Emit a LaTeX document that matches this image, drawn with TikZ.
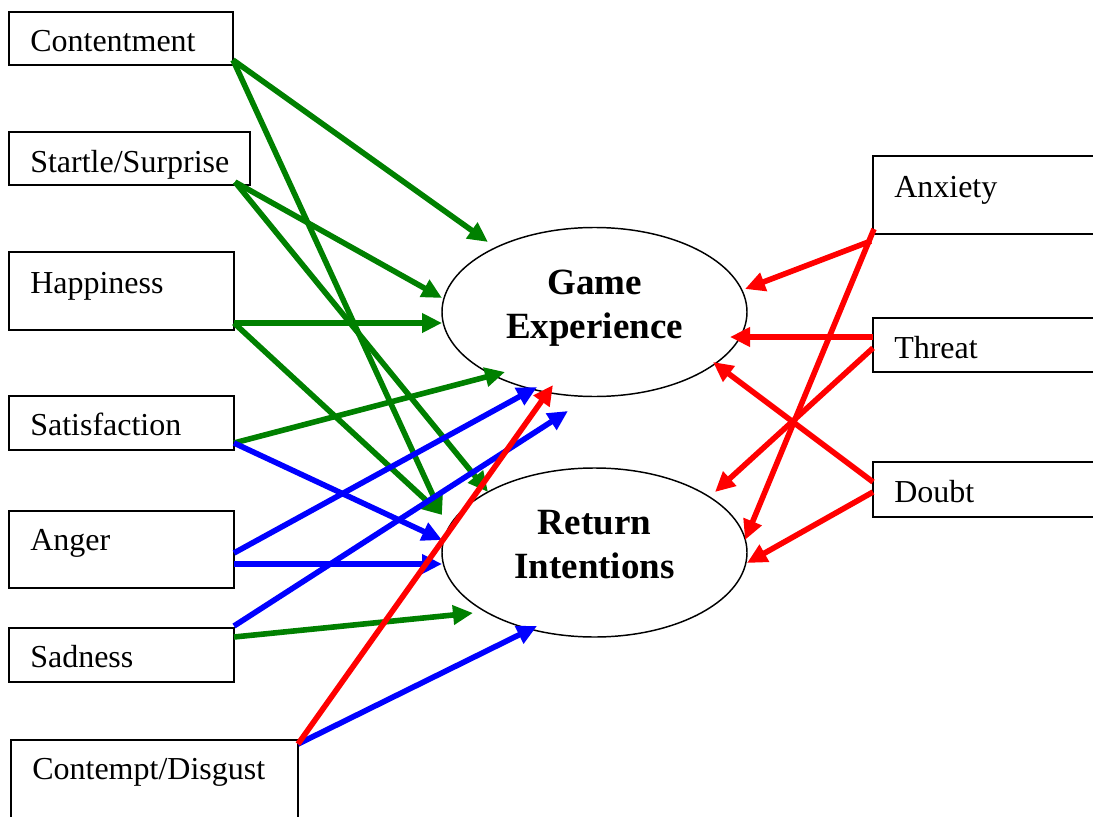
\documentclass[tikz,border=0pt]{standalone}
\usepackage{fontspec}
\setmainfont{Liberation Serif}
\usetikzlibrary{arrows.meta,shapes.geometric,calc}

\definecolor{posgreen}{RGB}{0,128,0}
\definecolor{negblue}{RGB}{0,0,255}
\definecolor{negred}{RGB}{255,0,0}

\tikzset{
  emobox/.style={draw=black, line width=1.5pt, rectangle, inner sep=0pt, outer sep=0pt, anchor=north west},
  emolabel/.style={inner sep=0pt, anchor=base west, font=\fontsize{24}{28}\selectfont},
  outcome/.style={draw=black, line width=1.1pt, ellipse, inner sep=0pt, outer sep=0pt,
                  minimum width=228.75pt, minimum height=126.75pt},
  outlabel/.style={inner sep=0pt, anchor=base, font=\fontsize{27.75}{33}\selectfont\bfseries},
  link/.style={line width=4.2pt, -{Triangle[length=15pt,width=14pt]}},
  glink/.style={link, draw=posgreen, fill=posgreen},
  blink/.style={link, draw=negblue, fill=negblue},
  rlink/.style={link, draw=negred, fill=negred}
}

\begin{document}
\begin{tikzpicture}[x=0.75pt, y=-0.75pt]
\useasboundingbox (0,0) rectangle (1093,817);
\clip (0,0) rectangle (1093,817);

% emotion boxes, left column
\node[emobox, minimum width=168pt,    minimum height=39.75pt] (cont)    at (9,12)   {};
\node[emobox, minimum width=180.75pt, minimum height=39.75pt] (startle) at (9,132)  {};
\node[emobox, minimum width=168.75pt, minimum height=58.5pt]  (happy)   at (9,252)  {};
\node[emobox, minimum width=168.75pt, minimum height=40.5pt]  (satis)   at (9,396)  {};
\node[emobox, minimum width=168.75pt, minimum height=57.75pt] (anger)   at (9,511)  {};
\node[emobox, minimum width=168.75pt, minimum height=40.5pt]  (sad)     at (9,628)  {};
\node[emobox, minimum width=215.25pt, minimum height=60pt]    (disg)    at (11,740) {};

% emotion boxes, right column
\node[emobox, minimum width=180pt, minimum height=58.5pt]  (anx)    at (873,156) {};
\node[emobox, minimum width=180pt, minimum height=40.5pt]  (threat) at (873,318) {};
\node[emobox, minimum width=180pt, minimum height=41.25pt] (doubt)  at (873,462) {};

% box labels
\node[emolabel] (contT)    at ($(cont.north west)+(21,40)$)    {Contentment};
\node[emolabel] (startleT) at ($(startle.north west)+(21,40)$) {Startle/Surprise};
\node[emolabel] (happyT)   at ($(happy.north west)+(21,41)$)   {Happiness};
\node[emolabel] (satisT)   at ($(satis.north west)+(21,39)$)   {Satisfaction};
\node[emolabel] (angerT)   at ($(anger.north west)+(21,39)$)   {Anger};
\node[emolabel] (sadT)     at ($(sad.north west)+(21,39)$)     {Sadness};
\node[emolabel] (disgT)    at ($(disg.north west)+(21,39)$)    {Contempt/Disgust};
\node[emolabel] (anxT)     at ($(anx.north west)+(21,41)$)     {Anxiety};
\node[emolabel] (threatT)  at ($(threat.north west)+(21,40)$)  {Threat};
\node[emolabel] (doubtT)   at ($(doubt.north west)+(21,40)$)   {Doubt};

% outcome ellipses
\node[outcome] (ge) at (594.5,312)   {};
\node[outcome] (ri) at (594.5,552.5) {};
\node[outlabel] (geA) at ($(ge.center)+(0,-18)$)   {Game};
\node[outlabel] (geB) at ($(ge.center)+(0,26)$)    {Experience};
\node[outlabel] (riA) at ($(ri.center)+(0,-18.5)$) {Return};
\node[outlabel] (riB) at ($(ri.center)+(0,25.5)$)  {Intentions};

% positive emotions
\draw[glink] ($(cont.south east)+(0,-5)$)      -- ($(ge.center)+(-106.5,-70)$);
\draw[glink] ($(cont.south east)+(0,-5)$)      -- ($(ri.center)+(-152.5,-37.5)$);
\draw[glink] ($(startle.south east)+(-15,-3)$) -- ($(ge.center)+(-152.5,-14)$);
\draw[glink] ($(startle.south east)+(-15,-3)$) -- ($(ri.center)+(-106.5,-60.5)$);
\draw[glink] ($(happy.south east)+(0,-7)$)     -- ($(ge.center)+(-152.5,11)$);
\draw[glink] ($(happy.south east)+(0,-7)$)     -- ($(ri.center)+(-152.5,-37.5)$);
\draw[glink] ($(satis.south east)+(0,-7)$)     -- ($(ge.center)+(-89.5,60)$);
\draw[glink] ($(sad.north east)+(0,9)$)        -- ($(ri.center)+(-121.5,60.5)$);

% sadness-type emotions
\draw[blink] ($(satis.south east)+(0,-7)$)  -- ($(ri.center)+(-152.5,-12.5)$);
\draw[blink] ($(anger.south east)+(0,-35)$) -- ($(ge.center)+(-57.5,75)$);
\draw[blink] ($(anger.south east)+(0,-24)$) -- ($(ri.center)+(-152.5,11.5)$);
\draw[blink] ($(sad.north east)+(0,-2)$)    -- ($(ge.center)+(-26.5,99)$);
\draw[blink] ($(disg.north east)+(0,4)$)    -- ($(ri.center)+(-57.5,73.5)$);

% fear-type emotions
\draw[rlink] ($(disg.north east)+(0,4)$)    -- ($(ge.center)+(-41.5,73)$);
\draw[rlink] ($(anx.south west)+(-2,7)$)    -- ($(ge.center)+(150.5,-23)$);
\draw[rlink] ($(anx.south west)+(1,-5)$)    -- ($(ri.center)+(150.5,-12.5)$);
\draw[rlink] ($(threat.north west)+(0,19)$) -- ($(ge.center)+(135.5,25)$);
\draw[rlink] ($(threat.north west)+(0,30)$) -- ($(ri.center)+(120.5,-60.5)$);
\draw[rlink] ($(doubt.north west)+(0,20)$)  -- ($(ge.center)+(118.5,50)$);
\draw[rlink] ($(doubt.north west)+(0,30)$)  -- ($(ri.center)+(152.5,10.5)$);
\end{tikzpicture}
\end{document}
